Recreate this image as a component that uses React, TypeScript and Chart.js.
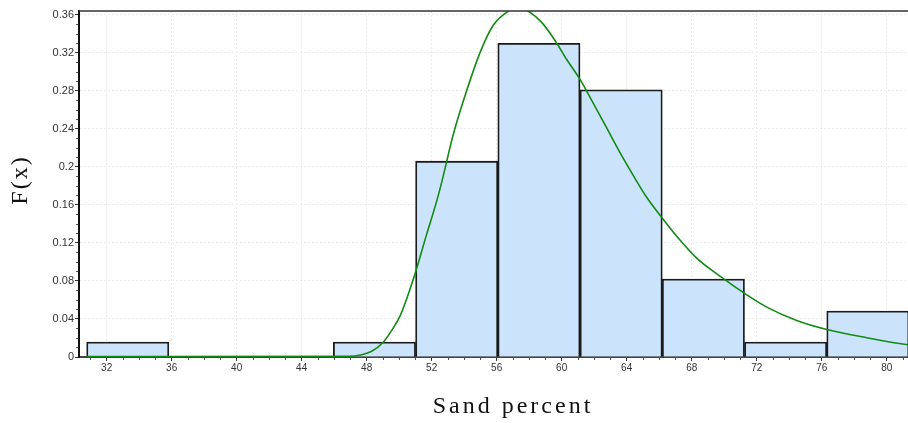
import React, { useEffect, useRef } from "react";
import { Chart, registerables } from "chart.js";

Chart.register(...registerables);

// Histogram bins (centres) and their densities
const binCenters = [33.3, 38.36, 43.42, 48.48, 53.54, 58.6, 63.66, 68.72, 73.78, 78.84];
const binDensity = [0.0157, 0, 0, 0.0157, 0.206, 0.33, 0.281, 0.082, 0.0157, 0.0483];

// Fitted density curve
const curveX = [30.77, 46.87, 47.69, 48.31, 49.02, 49.54, 50.05, 50.91, 51.69, 52.31, 52.62, 53.33, 54.15, 54.97, 55.79, 56.82, 57.31, 57.85, 58.77, 59.59, 60.31, 61.13, 61.94, 62.77, 63.59, 64.51, 65.23, 66.15, 67.08, 68.31, 69.74, 71.28, 72.62, 74.46, 76.31, 78.77, 81.31, 83.7];
const curveY = [0.0005, 0.0007, 0.0024, 0.006, 0.0155, 0.028, 0.043, 0.084, 0.129, 0.164, 0.184, 0.234, 0.28, 0.32, 0.349, 0.365, 0.369, 0.365, 0.352, 0.333, 0.313, 0.292, 0.267, 0.241, 0.215, 0.188, 0.168, 0.147, 0.127, 0.104, 0.085, 0.0666, 0.0525, 0.0385, 0.029, 0.0203, 0.0129, 0.0095];

const xTickValues = [32, 36, 40, 44, 48, 52, 56, 60, 64, 68, 72, 76, 80];
const yTickValues = [0, 0.04, 0.08, 0.12, 0.16, 0.2, 0.24, 0.28, 0.32, 0.36];
const yTickLabels = ["0", "0.04", "0.08", "0.12", "0.16", "0.2", "0.24", "0.28", "0.32", "0.36"];
const xTitle = "Sand percent";
const yTitle = "F(x)";

const X_MIN = 30.3;
const X_MAX = 83.71;
const Y_MAX = 0.364;

const decorPlugin = {
  id: "decor",
  afterDraw(chart: any) {
    const { ctx, chartArea, scales } = chart;
    const xs = scales.x;
    const ys = scales.y;
    ctx.save();
    // top frame line
    ctx.strokeStyle = "#333";
    ctx.lineWidth = 1.5;
    ctx.beginPath();
    ctx.moveTo(chartArea.left, chartArea.top);
    ctx.lineTo(chartArea.right, chartArea.top);
    ctx.stroke();

    // minor ticks
    ctx.strokeStyle = "#555";
    ctx.lineWidth = 1;
    ctx.beginPath();
    for (let v = Math.ceil(X_MIN); v <= X_MAX; v++) {
      if (v % 4 === 0) continue;
      const px = Math.round(xs.getPixelForValue(v)) + 0.5;
      ctx.moveTo(px, chartArea.bottom + 1);
      ctx.lineTo(px, chartArea.bottom + 3);
    }
    for (let i = 1; i <= 36; i++) {
      if (i % 4 === 0) continue;
      const py = Math.round(ys.getPixelForValue(i / 100)) + 0.5;
      ctx.moveTo(chartArea.left - 1, py);
      ctx.lineTo(chartArea.left - 3, py);
    }
    ctx.stroke();

    // axis titles
    ctx.fillStyle = "#111";
    ctx.font = "24px 'Liberation Serif', 'Times New Roman', serif";
    ctx.textAlign = "center";
    ctx.textBaseline = "middle";
    (ctx as any).letterSpacing = "3px";
    ctx.fillText(xTitle, (chartArea.left + chartArea.right) / 2, 407);
    ctx.translate(21, (chartArea.top + chartArea.bottom) / 2 - 4);
    ctx.rotate(-Math.PI / 2);
    (ctx as any).letterSpacing = "2px";
    ctx.fillText(yTitle, 0, 0);
    ctx.restore();
  },
};

export default function App() {
  const canvasRef = useRef<HTMLCanvasElement | null>(null);

  useEffect(() => {
    document.body.style.margin = "0";
    const canvas = canvasRef.current;
    if (!canvas) return;
    const chart = new Chart(canvas, {
      type: "bar",
      data: {
        datasets: [
          {
            type: "line",
            data: curveX.map((x, i) => ({ x, y: curveY[i] })),
            borderColor: "#138a13",
            borderWidth: 1.6,
            pointRadius: 0,
            fill: false,
            cubicInterpolationMode: "monotone",
            order: 0,
          } as any,
          {
            type: "bar",
            data: binCenters.map((x, i) => ({ x, y: binDensity[i] })),
            backgroundColor: "#cce4fb",
            borderColor: "#1a1a1a",
            borderWidth: 1.8,
            barThickness: "flex",
            barPercentage: 1,
            categoryPercentage: 1,
            order: 1,
          } as any,
        ],
      },
      options: {
        animation: false,
        responsive: false,
        devicePixelRatio: 1,
        layout: { padding: { top: 11, left: 0, right: 0, bottom: 0 } },
        plugins: { legend: { display: false }, tooltip: { enabled: false } },
        scales: {
          x: {
            type: "linear",
            offset: false,
            min: X_MIN,
            max: X_MAX,
            afterBuildTicks: (scale: any) => {
              scale.ticks = xTickValues.map((v) => ({ value: v }));
            },
            afterFit: (scale: any) => {
              scale.height = 66;
            },
            ticks: {
              font: { family: "'Liberation Sans', Arial, sans-serif", size: 10 },
              color: "#333",
              padding: 1,
              maxRotation: 0,
              callback: (v: any) => String(v),
            },
            grid: { offset: false, color: "#ebebeb", lineWidth: 1, tickColor: "#333", tickLength: 4 },
            border: { color: "#444", width: 2, dash: [2, 2] },
          },
          y: {
            type: "linear",
            min: 0,
            max: Y_MAX,
            afterBuildTicks: (scale: any) => {
              scale.ticks = yTickValues.map((v) => ({ value: v }));
            },
            afterFit: (scale: any) => {
              scale.width = 79;
            },
            ticks: {
              font: { family: "'Liberation Sans', Arial, sans-serif", size: 11 },
              color: "#333",
              padding: 1,
              callback: (v: any) => {
                const idx = yTickValues.findIndex((t) => Math.abs(t - v) < 1e-9);
                return idx >= 0 ? yTickLabels[idx] : "";
              },
            },
            grid: { color: "#ebebeb", lineWidth: 1, tickColor: "#333", tickLength: 4 },
            border: { color: "#111", width: 2, dash: [2, 2] },
          },
        },
      },
      plugins: [decorPlugin],
    } as any);
    return () => chart.destroy();
  }, []);

  return (
    <div style={{ width: 908, height: 423, overflow: "hidden", background: "#fff" }}>
      <canvas ref={canvasRef} width={947} height={423} style={{ display: "block" }} />
    </div>
  );
}
